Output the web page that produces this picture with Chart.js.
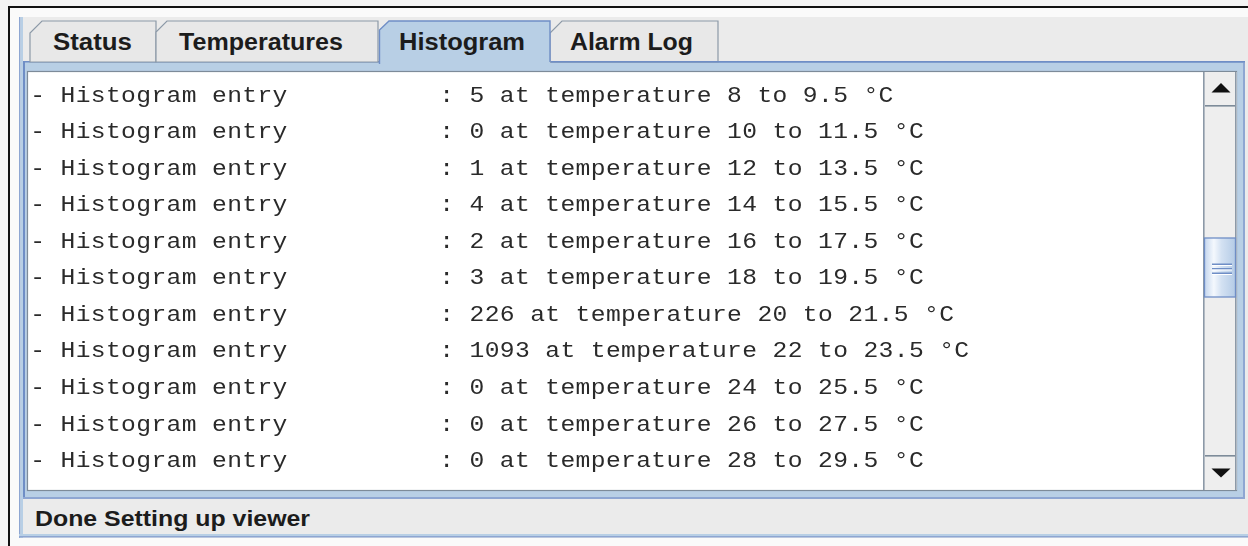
<!DOCTYPE html>
<html>
<head>
<meta charset="utf-8">
<script src="https://cdn.jsdelivr.net/npm/chart.js"></script>
<style>
  html, body { margin: 0; padding: 0; background: #f4f4f4; }
  #wrap { position: relative; width: 1248px; height: 546px; overflow: hidden; }
  #chrome { position: absolute; left: 0; top: 0; }
  #rows { position: absolute; left: 30px; top: 76px; }
  .tab { font-family: "Liberation Sans", Arial, sans-serif; font-weight: bold; font-size: 23px; fill: #1c1c1c; }
</style>
</head>
<body>
<script>
// ---- data ----
const rowLabel   = "- Histogram entry";
const counts     = [5, 0, 1, 4, 2, 3, 226, 1093, 0, 0, 0];
const tempFrom   = [8, 10, 12, 14, 16, 18, 20, 22, 24, 26, 28];
const tempTo     = [9.5, 11.5, 13.5, 15.5, 17.5, 19.5, 21.5, 23.5, 25.5, 27.5, 29.5];
const unit       = "°C";
const tabNames   = ["Status", "Temperatures", "Histogram", "Alarm Log"];
const statusText = "Done Setting up viewer";
</script>

<div id="wrap">
<svg id="chrome" width="1248" height="546" xmlns="http://www.w3.org/2000/svg">
  <defs>
    <linearGradient id="thumbG" x1="0" y1="0" x2="1" y2="0">
      <stop offset="0" stop-color="#c4d6ee"/>
      <stop offset="0.3" stop-color="#f4f8fd"/>
      <stop offset="0.55" stop-color="#d3e1f2"/>
      <stop offset="1" stop-color="#b4cbe6"/>
    </linearGradient>
  </defs>
  <rect x="0" y="0" width="1248" height="546" fill="#f4f4f4"/>
  <rect x="10" y="8" width="1238" height="538" fill="#fafafa"/>
  <!-- black frame -->
  <rect x="8" y="6" width="1240" height="2" fill="#111"/>
  <rect x="8" y="6" width="2" height="540" fill="#111"/>
  <!-- root gray panel -->
  <rect x="19" y="17" width="1229" height="521" fill="#ebebeb"/>
  <rect x="19" y="17" width="1.5" height="521" fill="#8ea6d2"/>
  <rect x="20.5" y="17" width="2.5" height="521" fill="#b8cfe5"/>
  <rect x="19" y="534" width="1229" height="2" fill="#b8cfe5"/>
  <rect x="19" y="536" width="1229" height="1.5" fill="#8ea6d2"/>

  <!-- tabbed pane content border -->
  <rect x="23" y="61" width="1222" height="438" fill="#b8cfe5"/>
  <rect x="23" y="61" width="1222" height="1.5" fill="#6f8ec6"/>
  <rect x="23" y="61" width="2" height="438" fill="#6f8ec6"/>
  <rect x="1243" y="61" width="2" height="438" fill="#8ea6d2"/>
  <rect x="23" y="497" width="1222" height="2" fill="#8ea6d2"/>

  <!-- tabs -->
  <polygon points="30,62 30,33 42,21 156,21 156,62" fill="#e8e8e8" stroke="#8c99a7" stroke-width="1.2"/>
  <polygon points="156,62 156,32 167,21 378,21 378,62" fill="#e8e8e8" stroke="#8c99a7" stroke-width="1.2"/>
  <polygon points="550,62 550,33 562,21 718,21 718,62" fill="#e8e8e8" stroke="#8c99a7" stroke-width="1.2"/>
  <rect x="380" y="28" width="170" height="36" fill="#b8cfe5"/>
  <polygon points="379.5,64 379.5,30 389,21 550,21 550,64" fill="#b8cfe5" stroke="none"/>
  <polyline points="379.5,64 379.5,30 389,21 550,21 550,62" fill="none" stroke="#6f8ec6" stroke-width="1.4"/>
  <rect x="551" y="61" width="694" height="1.5" fill="#6f8ec6"/>
  <text class="tab" x="53" y="49.5" textLength="79" lengthAdjust="spacingAndGlyphs" id="t0"></text>
  <text class="tab" x="179" y="49.5" textLength="164" lengthAdjust="spacingAndGlyphs" id="t1"></text>
  <text class="tab" x="399" y="49.5" textLength="126" lengthAdjust="spacingAndGlyphs" id="t2"></text>
  <text class="tab" x="570" y="49.5" textLength="123" lengthAdjust="spacingAndGlyphs" id="t3"></text>

  <!-- scroll pane -->
  <rect x="27.5" y="71.5" width="1209" height="419" fill="#ffffff" stroke="#7d8b99" stroke-width="1.2"/>
  <!-- scrollbar -->
  <rect x="1203" y="72" width="34" height="418" fill="#eeeeee"/>
  <rect x="1203" y="72" width="1.6" height="418" fill="#8c99a7"/>
  <rect x="1235" y="72" width="1.6" height="418" fill="#8c99a7"/>
  <!-- up button -->
  <rect x="1205" y="73" width="30" height="33" fill="#eeeeee"/>
  <rect x="1205" y="105" width="30" height="1.6" fill="#7d8b99"/>
  <polygon points="1221,83 1230.5,92.5 1211.5,92.5" fill="#111"/>
  <!-- down button -->
  <rect x="1205" y="455" width="30" height="34" fill="#eeeeee"/>
  <rect x="1205" y="455" width="30" height="1.6" fill="#7d8b99"/>
  <polygon points="1211.5,468.5 1230.5,468.5 1221,477.5" fill="#111"/>
  <!-- thumb -->
  <rect x="1204.5" y="238" width="31" height="59" fill="url(#thumbG)" stroke="#6f8ec6" stroke-width="1.3"/>
  <rect x="1212" y="263.5" width="20" height="1.5" fill="#6f8ec6"/>
  <rect x="1212" y="265" width="20" height="1" fill="#ffffff"/>
  <rect x="1212" y="268" width="20" height="1.5" fill="#6f8ec6"/>
  <rect x="1212" y="269.5" width="20" height="1" fill="#ffffff"/>
  <rect x="1212" y="272.5" width="20" height="1.5" fill="#6f8ec6"/>
  <rect x="1212" y="274" width="20" height="1" fill="#ffffff"/>

  <!-- status bar text -->
  <text class="tab" id="status" x="35" y="525.5" textLength="275" lengthAdjust="spacingAndGlyphs" style="font-size:22px"></text>
</svg>
<canvas id="rows" width="1173" height="402"></canvas>
</div>

<script>
tabNames.forEach((n, i) => { document.getElementById('t' + i).textContent = n; });
document.getElementById('status').textContent = statusText;

const rowLabels = counts.map((c, i) => rowLabel + " " + (i + 1));
const lines = counts.map((c, i) =>
  rowLabel.padEnd(27, " ") + ": " + c + " at temperature " + tempFrom[i] + " to " + tempTo[i] + " " + unit);

const CELL = 15.15;   // character cell width in px
const canvasW = 1173;

const textRows = {
  id: 'textRows',
  afterDatasetsDraw(chart) {
    const ctx = chart.ctx;
    const xs = chart.scales.x, ys = chart.scales.y;
    ctx.save();
    ctx.font = '22px "Liberation Mono", "DejaVu Sans Mono", monospace';
    ctx.fillStyle = '#2a2a2a';
    ctx.textAlign = 'center';
    ctx.textBaseline = 'alphabetic';
    lines.forEach((line, i) => {
      const y = ys.getPixelForValue(i) + 7.4;
      for (let j = 0; j < line.length; j++) {
        const ch = line[j];
        if (ch === ' ') continue;
        ctx.save();
        ctx.translate(xs.getPixelForValue(j + 0.5), y);
        ctx.scale(1.12, 1);
        ctx.fillText(ch, 0, 0);
        ctx.restore();
      }
    });
    ctx.restore();
  }
};

new Chart(document.getElementById('rows'), {
  type: 'bar',
  data: {
    labels: rowLabels,
    datasets: [{
      label: 'Histogram entries',
      data: counts,
      backgroundColor: 'rgba(0,0,0,0)',
      borderWidth: 0
    }]
  },
  options: {
    indexAxis: 'y',
    responsive: false,
    animation: false,
    devicePixelRatio: 1,
    events: [],
    layout: { padding: 0 },
    plugins: { legend: { display: false }, tooltip: { enabled: false } },
    scales: {
      x: { type: 'linear', display: false, min: 0, max: canvasW / CELL },
      y: { type: 'category', display: false, offset: true }
    }
  },
  plugins: [textRows]
});
</script>
</body>
</html>
